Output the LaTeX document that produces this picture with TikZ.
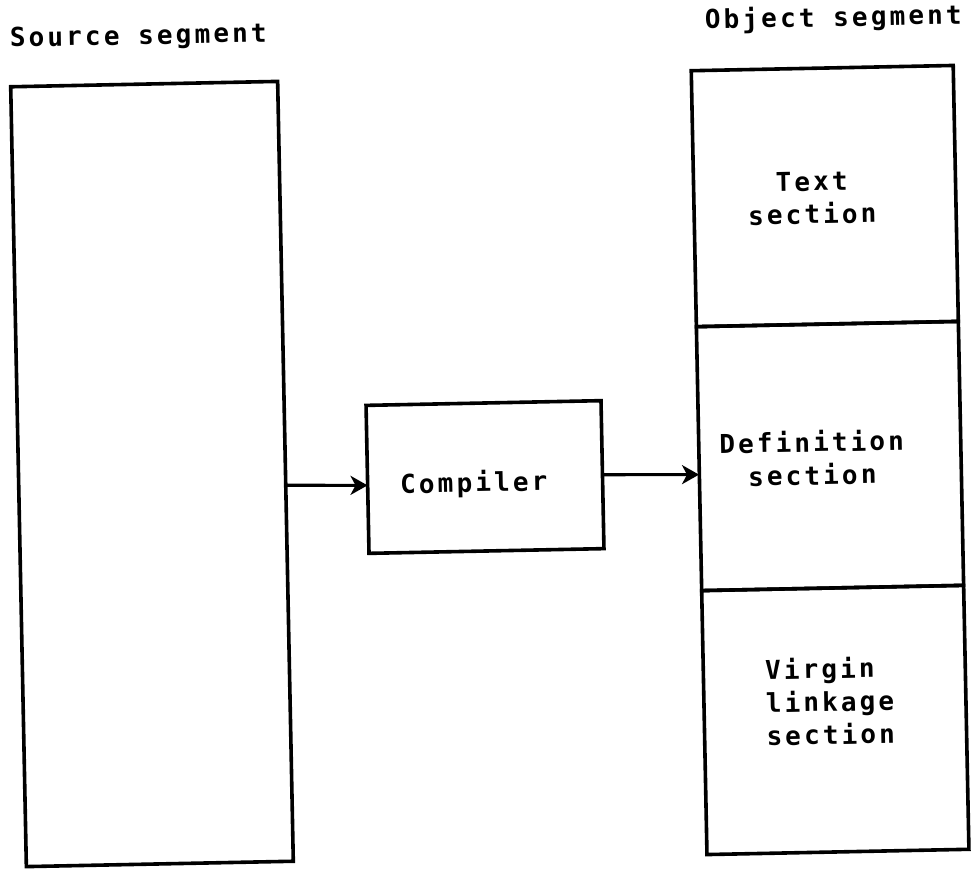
\documentclass[tikz,border=0pt]{standalone}
\usepackage{fontspec}
\setmonofont[LetterSpace=12]{DejaVu Sans Mono}
\usetikzlibrary{arrows.meta}
\tikzset{
  box/.style={draw, line width=3.6pt, rotate=1.15, outer sep=0pt, inner sep=0pt},
  lbl/.style={font=\ttfamily\bfseries\fontsize{26}{33}\selectfont, rotate=1.15, inner sep=0pt},
  arr/.style={line width=3.2pt, -{Stealth[length=17pt,width=19pt,inset=5pt]}}
}
\begin{document}
\begin{tikzpicture}[x=1pt,y=-1pt]
\useasboundingbox[fill=white] (0,0) rectangle (976,868);
% titles
\node[lbl, anchor=base west] (tsrc) at (10,47) {Source segment};
\node[lbl, anchor=base west] (tobj) at (705,29) {Object segment};
% source segment
\node[box, minimum width=267pt, minimum height=780pt] (src) at (152,474) {};
% compiler
\node[box, minimum width=235pt, minimum height=148pt] (comp) at (485,477) {};
\node[lbl, anchor=base] (tcomp) at (474,492) {Compiler};
% object segment sections
\node[box, minimum width=262pt, minimum height=264pt] (sec2) at (830,456) {};
\node[box, minimum width=262pt, minimum height=256pt, anchor=south] (sec1) at (sec2.north) {};
\node[box, minimum width=262pt, minimum height=264pt, anchor=north] (sec3) at (sec2.south) {};
\node[lbl, align=center] (ttext) at (812,198) {Text\\section};
\node[lbl, align=center] (tdef) at (812,458) {Definition\\section};
\node[lbl, align=left] (tvir) at (830,701) {Virgin\\linkage\\section};
% connectors
\draw[arr] ([yshift=-14pt]src.east) -- ([yshift=-6pt]comp.west);
\draw[arr] (comp.east) -- ([yshift=-16pt]sec2.west);
\end{tikzpicture}
\end{document}
